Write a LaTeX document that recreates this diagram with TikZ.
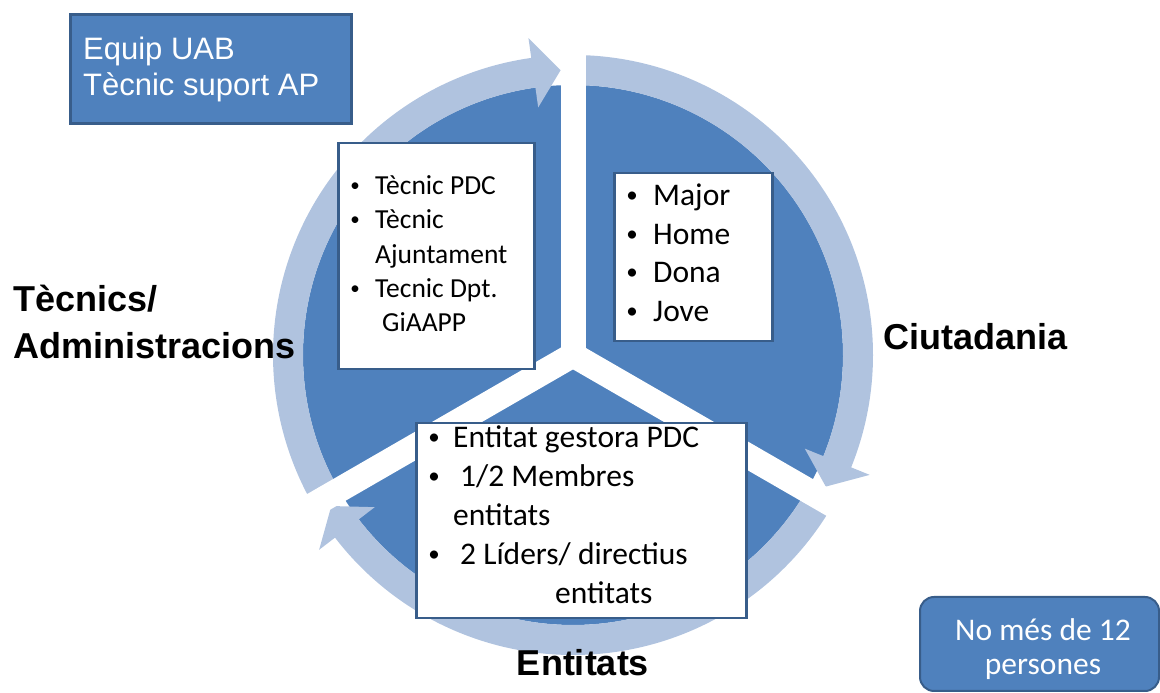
\documentclass[tikz,border=0pt]{standalone}
\usepackage{fontspec}
\setmainfont{Carlito}
\newfontfamily\arialf{Liberation Sans}
\definecolor{dkblue}{HTML}{4F81BD}
\definecolor{ringblue}{HTML}{B0C3DF}
\definecolor{edgeblue}{HTML}{385D8A}
\begin{document}
\begin{tikzpicture}[x=1pt,y=1pt,
  ring/.style={fill=ringblue},
  gapline/.style={draw=white,line width=25pt},
  wbox/.style={draw=edgeblue,line width=2.5pt,fill=white,inner sep=0,anchor=north west},
  bbox/.style={draw=edgeblue,line width=3pt,fill=dkblue,inner sep=0,anchor=north west},
  lbl/.style={font=\arialf\bfseries\fontsize{36}{40}\selectfont,inner sep=0},
  uabtxt/.style={font=\arialf\fontsize{31}{36}\selectfont,text=white,anchor=base west,inner sep=0},
  ta/.style={font=\fontsize{27.5}{30}\selectfont,anchor=base west,inner sep=0},
  tb/.style={font=\fontsize{31.5}{34}\selectfont,anchor=base west,inner sep=0},
  bula/.style={font=\fontsize{19}{19}\selectfont,anchor=base,inner sep=0},
  bulb/.style={font=\fontsize{23}{23}\selectfont,anchor=base,inner sep=0},
  tw/.style={font=\fontsize{31.5}{34}\selectfont,text=white,anchor=base,inner sep=0}
]
\useasboundingbox (0,0) rectangle (1160,693);
\clip (0,0) rectangle (1160,693);
\coordinate (C) at (573,338);
\fill[dkblue] (C) circle[radius=270pt];
% ring arrows (clockwise)
\fill[ring,shift={(573,338)}] (210:300pt) arc[start angle=210,end angle=98,radius=300pt]
  -- (98:320pt) -- (92.5:285pt) -- (98:250pt) -- (98:270pt)
  arc[start angle=98,end angle=210,radius=270pt] -- cycle;
\fill[ring,shift={(573,338)}] (90:300pt) arc[start angle=90,end angle=-22,radius=300pt]
  -- (-22:320pt) -- (-27.5:285pt) -- (-22:250pt) -- (-22:270pt)
  arc[start angle=-22,end angle=90,radius=270pt] -- cycle;
\fill[ring,shift={(573,338)}] (-30:300pt) arc[start angle=-30,end angle=-142.5,radius=300pt]
  -- (-142.5:320pt) -- (-148:285pt) -- (-142.5:250pt) -- (-142.5:270pt)
  arc[start angle=-142.5,end angle=-30,radius=270pt] -- cycle;
% gaps
\draw[gapline] (C) -- ++(90:345pt);
\draw[gapline] (C) -- ++(210:345pt);
\draw[gapline] (C) -- ++(330:345pt);
% top-left box
\node[bbox,minimum width=281pt,minimum height=109pt] (uab) at (69,680) {};
\node[uabtxt] (uab1) at (83,633) {Equip UAB};
\node[uabtxt] (uab2) at (83,597) {Tècnic suport AP};
% Tecnics box
\node[wbox,minimum width=196pt,minimum height=226pt] (tec) at (337,551) {};
\node[bula] (tb1) at (355,501) {\textbullet};
\node[ta] (tt1) at (375,498) {Tècnic PDC};
\node[bula] (tb2) at (355,467) {\textbullet};
\node[ta] (tt2) at (375,464) {Tècnic};
\node[ta] (tt3) at (375,429) {Ajuntament};
\node[bula] (tb3) at (355,398) {\textbullet};
\node[ta] (tt4) at (375,395) {Tecnic Dpt.};
\node[ta] (tt5) at (382,361) {GiAAPP};
% Ciutadania box
\node[wbox,minimum width=158pt,minimum height=168pt] (ciu) at (613,521) {};
\node[bulb] (cb1) at (632,490) {\textbullet};
\node[tb] (ct1) at (653,487) {Major};
\node[bulb] (cb2) at (632,451) {\textbullet};
\node[tb] (ct2) at (653,448) {Home};
\node[bulb] (cb3) at (632,413) {\textbullet};
\node[tb] (ct3) at (653,410) {Dona};
\node[bulb] (cb4) at (632,374) {\textbullet};
\node[tb] (ct4) at (653,371) {Jove};
% Entitats box
\node[wbox,minimum width=330pt,minimum height=195pt] (ent) at (415,271) {};
\node[bulb] (eb1) at (434,248) {\textbullet};
\node[tb] (et1) at (453,245) {Entitat gestora PDC};
\node[bulb] (eb2) at (434,209) {\textbullet};
\node[tb] (et2) at (460,206) {1/2 Membres};
\node[tb] (et3) at (453,167) {entitats};
\node[bulb] (eb3) at (434,131) {\textbullet};
\node[tb] (et4) at (460,128) {2 Líders/ directius};
\node[tb] (et5) at (555,89) {entitats};
% labels
\node[lbl,anchor=base west] (l1) at (13,381) {Tècnics/};
\node[lbl,anchor=base west] (l2) at (13,334) {Administracions};
\node[lbl,anchor=base west] (l3) at (883,343) {Ciutadania};
\node[lbl,anchor=base] (l4) at (583,17) {Entitats};
% note box
\node[draw=edgeblue,line width=2pt,fill=dkblue,rounded corners=14pt,anchor=north west,
  minimum width=239pt,minimum height=94pt,inner sep=0] (note) at (919,97) {};
\node[tw] (n1) at (1043,52) {No més de 12};
\node[tw] (n2) at (1043,18) {persones};
\end{tikzpicture}
\end{document}
